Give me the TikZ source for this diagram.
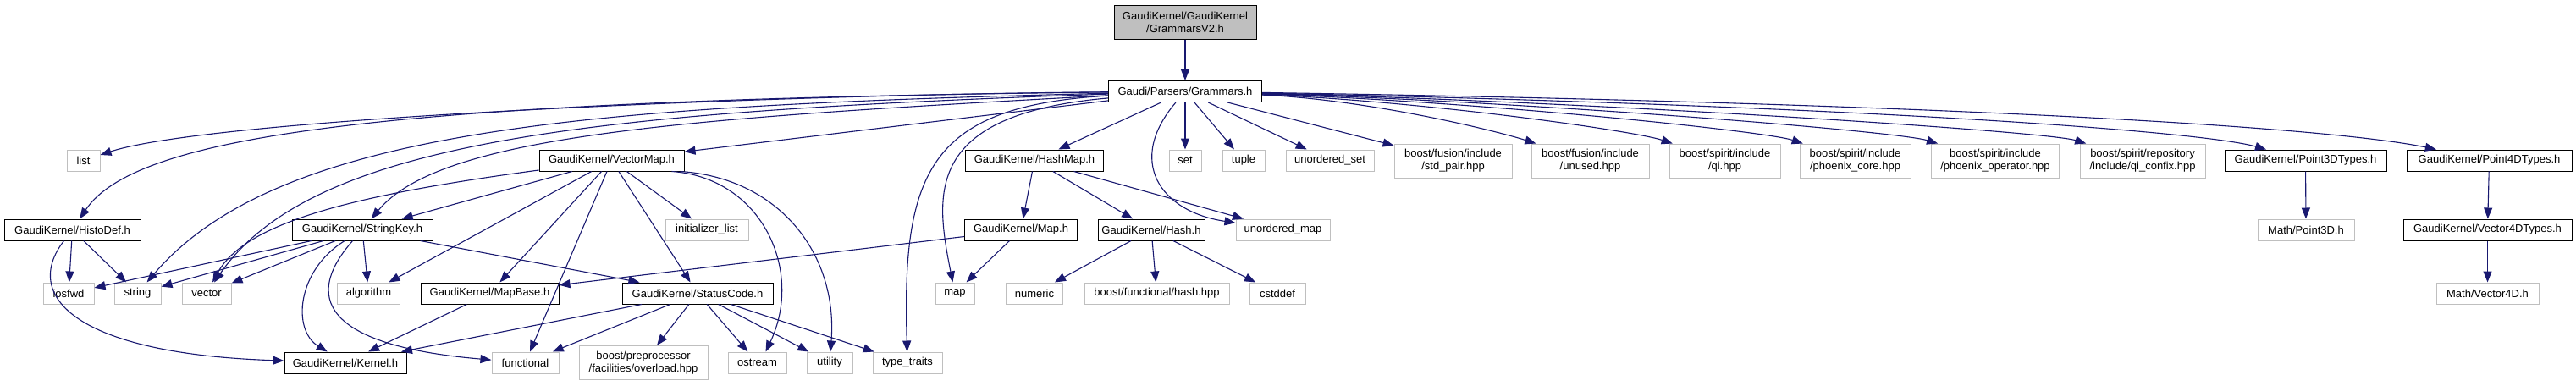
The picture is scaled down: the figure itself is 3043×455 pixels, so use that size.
\documentclass[tikz,border=0pt]{standalone}
\usepackage{fontspec}
\setmainfont{Liberation Sans}
\usetikzlibrary{arrows.meta}
\definecolor{edgeblue}{HTML}{191970}
\definecolor{extgray}{HTML}{BFBFBF}
\begin{document}
\begin{tikzpicture}[x=1pt, y=-1pt,
    hdr/.style={draw=black, fill=white, line width=1pt, minimum height=25pt, inner sep=2pt, align=center, font=\fontsize{13}{15}\selectfont},
    sys/.style={hdr, draw=extgray},
    top/.style={hdr, fill=extgray},
    two/.style={minimum height=40pt},
    dep/.style={-{Triangle[length=13pt, width=10pt]}, draw=edgeblue, line width=1.1pt}
  ]
    \useasboundingbox (0,0) rectangle (3043,455);

    \node[top, two, minimum width=168pt] (root) at (1400,26) {GaudiKernel/GaudiKernel\\/GrammarsV2.h};
    \node[hdr, minimum width=181pt] (gram) at (1400,108) {Gaudi/Parsers/Grammars.h};

    \node[sys, minimum width=39pt]       (list)     at (98.5,189.5)  {list};
    \node[hdr, minimum width=171pt]      (vmap)     at (722.5,189.5) {GaudiKernel/VectorMap.h};
    \node[hdr, minimum width=163pt]      (hmap)     at (1222,189.5)  {GaudiKernel/HashMap.h};
    \node[sys, minimum width=38pt]       (set)      at (1400,189.5)  {set};
    \node[sys, minimum width=50pt]       (tuple)    at (1469,189.5)  {tuple};
    \node[sys, minimum width=104pt]      (uset)     at (1571,189.5)  {unordered\_set};
    \node[sys, two, minimum width=139pt] (stdpair)  at (1716.5,190)  {boost/fusion/include\\/std\_pair.hpp};
    \node[sys, two, minimum width=139pt] (unused)   at (1878.5,190)  {boost/fusion/include\\/unused.hpp};
    \node[sys, two, minimum width=131pt] (qi)       at (2037.5,190)  {boost/spirit/include\\/qi.hpp};
    \node[sys, two, minimum width=131pt] (pcore)    at (2191.5,190)  {boost/spirit/include\\/phoenix\_core.hpp};
    \node[sys, two, minimum width=151pt] (poper)    at (2357,190)    {boost/spirit/include\\/phoenix\_operator.hpp};
    \node[sys, two, minimum width=148pt] (qiconfix) at (2531,190)    {boost/spirit/repository\\/include/qi\_confix.hpp};
    \node[hdr, minimum width=191pt]      (p3d)      at (2723.5,189.5) {GaudiKernel/Point3DTypes.h};
    \node[hdr, minimum width=195pt]      (p4d)      at (2940.5,189.5) {GaudiKernel/Point4DTypes.h};

    \node[hdr, minimum width=161pt] (histodef) at (85.5,271.5)   {GaudiKernel/HistoDef.h};
    \node[hdr, minimum width=166pt] (strkey)   at (428,271.5)    {GaudiKernel/StringKey.h};
    \node[sys, minimum width=98pt]  (initlist) at (835,271.5)    {initializer\_list};
    \node[hdr, minimum width=133pt] (mapH)     at (1206,271.5)   {GaudiKernel/Map.h};
    \node[hdr, minimum width=126pt] (hash)     at (1360,271.5)   {GaudiKernel/Hash.h};
    \node[sys, minimum width=111pt] (umap)     at (1515.5,271.5) {unordered\_map};
    \node[sys, minimum width=114pt] (mpoint3d) at (2724,271.5)   {Math/Point3D.h};
    \node[hdr, minimum width=199pt] (v4dtypes) at (2938.5,271.5) {GaudiKernel/Vector4DTypes.h};

    \node[sys, minimum width=60pt]  (iosfwd)    at (81,346.5)     {iosfwd};
    \node[sys, minimum width=55pt]  (string)    at (162.5,346.5)  {string};
    \node[sys, minimum width=58pt]  (vector)    at (244,346.5)    {vector};
    \node[sys, minimum width=74pt]  (algorithm) at (435.5,346.5)  {algorithm};
    \node[hdr, minimum width=163pt] (mapbase)   at (578.5,346.5)  {GaudiKernel/MapBase.h};
    \node[hdr, minimum width=178pt] (status)    at (824,346.5)    {GaudiKernel/StatusCode.h};
    \node[sys, minimum width=46pt]  (map)       at (1128,346.5)   {map};
    \node[sys, minimum width=67pt]  (numeric)   at (1222,346.5)   {numeric};
    \node[sys, minimum width=171pt] (fhash)     at (1366.5,346.5) {boost/functional/hash.hpp};
    \node[sys, minimum width=66pt]  (cstddef)   at (1509,346.5)   {cstddef};
    \node[sys, minimum width=121pt] (mvec4d)    at (2938.5,346.5) {Math/Vector4D.h};

    \node[hdr, minimum width=144pt]      (kernel)     at (408,428.5)   {GaudiKernel/Kernel.h};
    \node[sys, minimum width=79pt]       (functional) at (620.5,428.5) {functional};
    \node[sys, two, minimum width=152pt] (overload)   at (760,428.5)   {boost/preprocessor\\/facilities/overload.hpp};
    \node[sys, minimum width=69pt]       (ostream)    at (894.5,428.5) {ostream};
    \node[sys, minimum width=54pt]       (utility)    at (980,428.5)   {utility};
    \node[sys, minimum width=82pt]       (typetraits) at (1072,428.5)  {type\_traits};

    \draw[dep] (root) -- (gram);

    \draw[dep] (gram) .. controls (900,112) and (250,140) .. (list);
    \draw[dep] (gram) .. controls (450,118) and (160,160) .. (histodef);
    \draw[dep] (gram) .. controls (700,125) and (330,150) .. (string);
    \draw[dep] (gram) .. controls (700,132) and (370,165) .. (vector);
    \draw[dep] (gram) .. controls (800,140) and (520,160) .. (strkey);
    \draw[dep] (gram) -- (vmap);
    \draw[dep] (gram) .. controls (1100,125) and (1065,200) .. (typetraits);
    \draw[dep] (gram) .. controls (1090,135) and (1105,230) .. (map);
    \draw[dep] (gram) -- (hmap);
    \draw[dep] (gram) .. controls (1330,190) and (1370,250) .. (umap);
    \draw[dep] (gram) -- (set);
    \draw[dep] (gram) -- (tuple);
    \draw[dep] (gram) -- (uset);
    \draw[dep] (gram) -- (stdpair);
    \draw[dep] (gram) .. controls (1620,118) and (1769,155) .. (unused);
    \draw[dep] (gram) .. controls (1690,120) and (1932,155) .. (qi);
    \draw[dep] (gram) .. controls (1750,120) and (2086,155) .. (pcore);
    \draw[dep] (gram) .. controls (1810,120) and (2241,155) .. (poper);
    \draw[dep] (gram) .. controls (1880,120) and (2417,155) .. (qiconfix);
    \draw[dep] (gram) .. controls (2200,125) and (2600,155) .. (p3d);
    \draw[dep] (gram) .. controls (2300,122) and (2750,150) .. (p4d);

    \draw[dep] (vmap) -- (strkey);
    \draw[dep] (vmap) .. controls (420,230) and (290,262) .. (vector);
    \draw[dep] (vmap) -- (algorithm);
    \draw[dep] (vmap) -- (mapbase);
    \draw[dep] (vmap) -- (functional);
    \draw[dep] (vmap) -- (status);
    \draw[dep] (vmap) -- (initlist);
    \draw[dep] ([xshift=-15pt]vmap.south east) .. controls (900,210) and (950,320) .. ([xshift=10pt]ostream.north);
    \draw[dep] ([xshift=-5pt]vmap.south east) .. controls (920,210) and (990,300) .. (utility);

    \draw[dep] (histodef) -- (iosfwd);
    \draw[dep] (histodef) -- (string);
    \draw[dep] (histodef) .. controls (25,350) and (90,418) .. (kernel);

    \draw[dep] (strkey) -- (iosfwd);
    \draw[dep] (strkey) -- (string);
    \draw[dep] (strkey) -- (vector);
    \draw[dep] (strkey) -- (algorithm);
    \draw[dep] (strkey) .. controls (350,320) and (345,390) .. (kernel);
    \draw[dep] (strkey) .. controls (350,360) and (400,410) .. (functional);
    \draw[dep] (strkey) -- (status);

    \draw[dep] (mapbase) -- (kernel);

    \draw[dep] (status) -- (kernel);
    \draw[dep] (status) -- (functional);
    \draw[dep] (status) -- (overload);
    \draw[dep] (status) -- (ostream);
    \draw[dep] (status) -- (utility);
    \draw[dep] (status) -- (typetraits);

    \draw[dep] (hmap) -- (mapH);
    \draw[dep] (hmap) -- (hash);
    \draw[dep] (hmap) -- (umap);
    \draw[dep] (mapH) -- (mapbase);
    \draw[dep] (mapH) -- (map);
    \draw[dep] (hash) -- (numeric);
    \draw[dep] (hash) -- (fhash);
    \draw[dep] (hash) -- (cstddef);

    \draw[dep] (p3d) -- (mpoint3d);
    \draw[dep] (p4d) -- (v4dtypes);
    \draw[dep] (v4dtypes) -- (mvec4d);
  \end{tikzpicture}
\end{document}
